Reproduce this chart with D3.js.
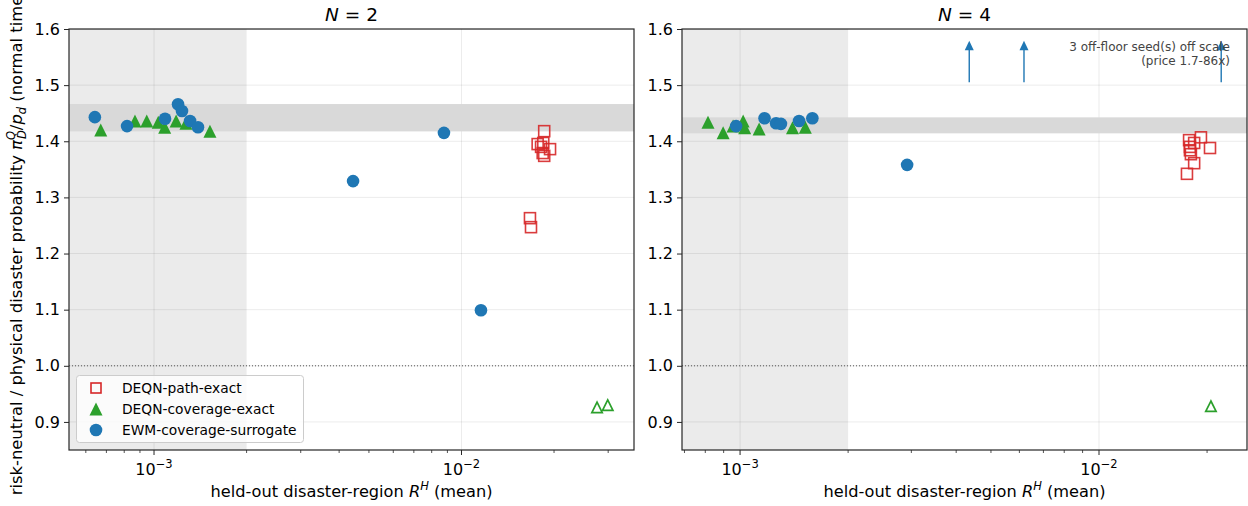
<!DOCTYPE html>
<html>
<head>
<meta charset="utf-8">
<script src="https://cdn.jsdelivr.net/npm/d3@7"></script>
<style>
  body { margin: 0; background: #fff; }
  svg { font-family: "DejaVu Sans", sans-serif; }
</style>
</head>
<body>
<div id="chart"></div>
<script>
// ---- data ----
// N = 2 panel
var n2PathX = [0.01858, 0.01769, 0.01845, 0.01941, 0.01837, 0.01858, 0.01815, 0.0167, 0.01683];
var n2PathY = [1.418, 1.395, 1.397, 1.386, 1.379, 1.374, 1.390, 1.263, 1.247];
var n2CovX = [0.000671, 0.000867, 0.000947, 0.001032, 0.001083, 0.00118, 0.00127, 0.00152];
var n2CovY = [1.420, 1.436, 1.436, 1.434, 1.425, 1.436, 1.432, 1.418];
var n2CovOffX = [0.0276, 0.0299];
var n2CovOffY = [0.926, 0.930];
var n2EwmX = [0.000642, 0.000817, 0.001086, 0.001197, 0.001233, 0.00131, 0.00139, 0.00444, 0.00877, 0.01157];
var n2EwmY = [1.443, 1.427, 1.440, 1.466, 1.454, 1.436, 1.425, 1.329, 1.415, 1.099];
var n2Band = [1.4176, 1.4663];

// N = 4 panel
var n4PathX = [0.01782, 0.01923, 0.02038, 0.01841, 0.01792, 0.01803, 0.01841, 0.01758, 0.01792];
var n4PathY = [1.402, 1.407, 1.388, 1.397, 1.384, 1.377, 1.361, 1.342, 1.390];
var n4CovX = [0.000814, 0.000897, 0.000956, 0.00102, 0.00103, 0.00113, 0.0014, 0.00152];
var n4CovY = [1.434, 1.415, 1.427, 1.436, 1.424, 1.422, 1.424, 1.425];
var n4CovOffX = [0.0205];
var n4CovOffY = [0.928];
var n4EwmX = [0.000975, 0.00117, 0.00126, 0.0013, 0.00146, 0.00159, 0.00292];
var n4EwmY = [1.427, 1.441, 1.432, 1.431, 1.436, 1.441, 1.358];
var n4OffScaleX = [0.00435, 0.00618, 0.0219];
var n4Band = [1.4141, 1.4426];

var floorR = 0.002;
var yTicks = [0.9, 1.0, 1.1, 1.2, 1.3, 1.4, 1.5, 1.6];
var legendNames = ["DEQN-path-exact", "DEQN-coverage-exact", "EWM-coverage-surrogate"];

(function () {
    var blue = "#1f77b4", green = "#2ca02c", red = "#d62728";

    var W = 1248, H = 506;
    var plotTop = 29, plotBottom = 450;

    var svg = d3.select("#chart").append("svg")
        .attr("width", W).attr("height", H);

    var panels = [
        { title: "2", left: 69, right: 634, dom: [5.29e-4, 0.0364],
          pathX: n2PathX, pathY: n2PathY, covX: n2CovX, covY: n2CovY,
          offX: n2CovOffX, offY: n2CovOffY, ewmX: n2EwmX, ewmY: n2EwmY, band: n2Band,
          arrows: [], legend: true },
        { title: "4", left: 682, right: 1247, dom: [6.89e-4, 0.02584],
          pathX: n4PathX, pathY: n4PathY, covX: n4CovX, covY: n4CovY,
          offX: n4CovOffX, offY: n4CovOffY, ewmX: n4EwmX, ewmY: n4EwmY, band: n4Band,
          arrows: n4OffScaleX, legend: false }
    ];

    var y = d3.scaleLinear().domain([0.85, 1.6]).range([plotBottom, plotTop]);

    function triPath(s) {
        // matplotlib '^' marker, centred on its bbox
        return "M0," + (-s) + "L" + (-s) + "," + s + "L" + s + "," + s + "Z";
    }

    panels.forEach(function (p, pi) {
        var x = d3.scaleLog().domain(p.dom).range([p.left, p.right]);
        var g = svg.append("g");
        var clipId = "clip" + pi;
        g.append("clipPath").attr("id", clipId).append("rect")
            .attr("x", p.left).attr("y", plotTop)
            .attr("width", p.right - p.left).attr("height", plotBottom - plotTop);

        var plot = g.append("g").attr("clip-path", "url(#" + clipId + ")");

        // shaded floor region
        plot.append("rect")
            .attr("x", p.left).attr("y", plotTop)
            .attr("width", x(floorR) - p.left).attr("height", plotBottom - plotTop)
            .attr("fill", "#ebebeb");

        // grid
        var majors = x.ticks().filter(function (t) {
            return Math.abs(Math.log10(t) - Math.round(Math.log10(t))) < 1e-9;
        });
        plot.selectAll(".gx").data(majors).enter().append("line")
            .attr("x1", function (d) { return x(d); }).attr("x2", function (d) { return x(d); })
            .attr("y1", plotTop).attr("y2", plotBottom)
            .attr("stroke", "#000").attr("stroke-opacity", 0.08).attr("stroke-width", 1);
        plot.selectAll(".gy").data(yTicks).enter().append("line")
            .attr("x1", p.left).attr("x2", p.right)
            .attr("y1", function (d) { return y(d); }).attr("y2", function (d) { return y(d); })
            .attr("stroke", "#000").attr("stroke-opacity", 0.08).attr("stroke-width", 1);

        // consensus band
        plot.append("rect")
            .attr("x", p.left).attr("width", p.right - p.left)
            .attr("y", y(p.band[1])).attr("height", y(p.band[0]) - y(p.band[1]))
            .attr("fill", "#d9d9d9");

        // reference line at 1
        plot.append("line")
            .attr("x1", p.left).attr("x2", p.right)
            .attr("y1", y(1)).attr("y2", y(1))
            .attr("stroke", "#555").attr("stroke-width", 1)
            .attr("stroke-dasharray", "1,2");

        // DEQN-path-exact: open squares
        plot.selectAll(".sq").data(d3.range(p.pathX.length)).enter().append("rect")
            .attr("x", function (i) { return x(p.pathX[i]) - 5.5; })
            .attr("y", function (i) { return y(p.pathY[i]) - 5.5; })
            .attr("width", 11).attr("height", 11)
            .attr("fill", "none").attr("stroke", red).attr("stroke-width", 1.6)
            .attr("stroke-opacity", 0.9);

        // DEQN-coverage-exact: filled triangles
        plot.selectAll(".tri").data(d3.range(p.covX.length)).enter().append("path")
            .attr("transform", function (i) { return "translate(" + x(p.covX[i]) + "," + y(p.covY[i]) + ")"; })
            .attr("d", triPath(6.5))
            .attr("fill", green);

        // off-floor coverage runs: open triangles
        plot.selectAll(".otri").data(d3.range(p.offX.length)).enter().append("path")
            .attr("transform", function (i) { return "translate(" + x(p.offX[i]) + "," + y(p.offY[i]) + ")"; })
            .attr("d", triPath(5.2))
            .attr("fill", "none").attr("stroke", green).attr("stroke-width", 1.7);

        // EWM-coverage-surrogate: circles
        plot.selectAll(".dot").data(d3.range(p.ewmX.length)).enter().append("circle")
            .attr("cx", function (i) { return x(p.ewmX[i]); })
            .attr("cy", function (i) { return y(p.ewmY[i]); })
            .attr("r", 6.3)
            .attr("fill", blue);

        // off-scale arrows
        p.arrows.forEach(function (a) {
            var ax = x(a);
            plot.append("line")
                .attr("x1", ax).attr("x2", ax)
                .attr("y1", y(1.505)).attr("y2", y(1.57))
                .attr("stroke", blue).attr("stroke-width", 1.4);
            plot.append("path")
                .attr("d", "M" + (ax - 4.5) + "," + (y(1.562)) + "L" + ax + "," + (y(1.579)) + "L" + (ax + 4.5) + "," + (y(1.562)) + "Z")
                .attr("fill", blue);
        });
        if (p.arrows.length) {
            var ann = g.append("text")
                .attr("text-anchor", "end")
                .attr("font-size", 12)
                .attr("fill", "#444");
            ann.append("tspan").attr("x", p.right - 17).attr("y", 51)
                .text(p.arrows.length + " off-floor seed(s) off scale");
            ann.append("tspan").attr("x", p.right - 17).attr("y", 65)
                .text("(price 1.7-86x)");
        }

        // frame
        g.append("rect")
            .attr("x", p.left).attr("y", plotTop)
            .attr("width", p.right - p.left).attr("height", plotBottom - plotTop)
            .attr("fill", "none").attr("stroke", "#262626").attr("stroke-width", 1.2);

        // y axis
        var ya = g.append("g").attr("transform", "translate(" + p.left + ",0)")
            .call(d3.axisLeft(y).tickValues(yTicks).tickFormat(d3.format(".1f")).tickSize(5).tickPadding(4));
        ya.select(".domain").remove();
        ya.selectAll("text").attr("font-size", 16).attr("fill", "#000").attr("font-family", "DejaVu Sans");
        ya.selectAll("line").attr("stroke", "#262626");

        // x axis: log ticks, minor ticks unlabelled
        var allTicks = x.ticks();
        var xa = g.append("g").attr("transform", "translate(0," + plotBottom + ")");
        xa.selectAll(".t").data(allTicks).enter().append("line")
            .attr("x1", function (d) { return x(d); }).attr("x2", function (d) { return x(d); })
            .attr("y1", 0)
            .attr("y2", function (d) { return majors.indexOf(d) >= 0 ? 5 : 3; })
            .attr("stroke", "#262626").attr("stroke-width", function (d) { return majors.indexOf(d) >= 0 ? 1 : 0.8; });
        majors.forEach(function (m) {
            var t = xa.append("text")
                .attr("x", x(m)).attr("y", 25)
                .attr("text-anchor", "middle")
                .attr("font-size", 16);
            t.append("tspan").text("10");
            t.append("tspan").attr("dy", -7).attr("font-size", 11.5)
                .text("\u2212" + Math.round(-Math.log10(m)));
        });

        // x label
        var xl = g.append("text")
            .attr("x", (p.left + p.right) / 2).attr("y", 497)
            .attr("text-anchor", "middle").attr("font-size", 16.2);
        xl.append("tspan").text("held-out disaster-region ");
        xl.append("tspan").attr("font-style", "italic").text("R");
        xl.append("tspan").attr("dy", -7).attr("font-size", 11.5).attr("font-style", "italic").text("H");
        xl.append("tspan").attr("dy", 7).text(" (mean)");

        // title
        var tt = g.append("text")
            .attr("x", (p.left + p.right) / 2).attr("y", 21)
            .attr("text-anchor", "middle").attr("font-size", 18.5);
        tt.append("tspan").attr("font-style", "italic").text("N");
        tt.append("tspan").text(" = " + p.title);

        // legend
        if (p.legend) {
            var lg = g.append("g");
            lg.append("rect")
                .attr("x", 76.5).attr("y", 375.5).attr("width", 227).attr("height", 67)
                .attr("rx", 3).attr("fill", "#fff").attr("fill-opacity", 0.8)
                .attr("stroke", "#ccc");
            legendNames.forEach(function (name, i) {
                var ly = 388 + i * 21;
                if (i === 0) {
                    lg.append("rect").attr("x", 91).attr("y", ly - 5).attr("width", 10).attr("height", 10)
                        .attr("fill", "none").attr("stroke", red).attr("stroke-width", 1.6);
                } else if (i === 1) {
                    lg.append("path").attr("transform", "translate(96," + ly + ")")
                        .attr("d", triPath(6.5)).attr("fill", green);
                } else {
                    lg.append("circle").attr("cx", 96).attr("cy", ly).attr("r", 6.3).attr("fill", blue);
                }
                lg.append("text").attr("x", 122).attr("y", ly + 5)
                    .attr("font-size", 13.8).text(name);
            });
        }
    });

    // shared y label (cut off at the top like the original)
    var yl = svg.append("text")
        .attr("transform", "translate(22,238) rotate(-90)")
        .attr("text-anchor", "middle").attr("font-size", 16.4);
    yl.append("tspan").text("risk-neutral / physical disaster probability ");
    yl.append("tspan").attr("font-style", "italic").text("\u03c0");
    yl.append("tspan").attr("font-style", "italic").attr("font-size", 11.5).attr("dy", -7).text("Q");
    yl.append("tspan").attr("font-style", "italic").attr("font-size", 11.5).attr("dx", -8).attr("dy", 11).text("D");
    yl.append("tspan").attr("dy", -4).text("/");
    yl.append("tspan").attr("font-style", "italic").text("p");
    yl.append("tspan").attr("font-style", "italic").attr("font-size", 11.5).attr("dy", 4).text("d");
    yl.append("tspan").attr("dy", -4).text(" (normal times)");
})();
</script>
</body>
</html>
